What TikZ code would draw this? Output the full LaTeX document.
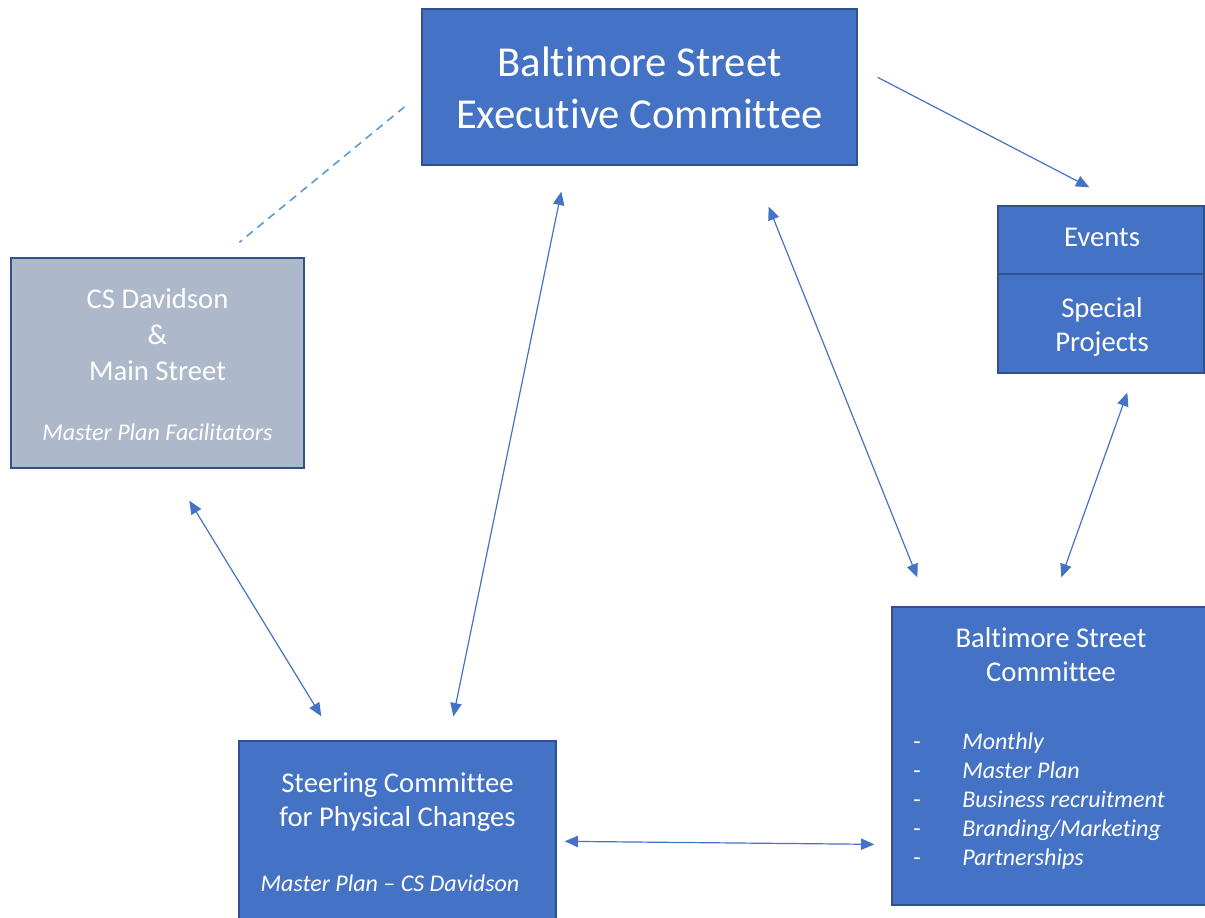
\documentclass[tikz,border=0pt]{standalone}
\usepackage{fontspec}
\setmainfont{Carlito}[Ligatures=NoCommon]
\usetikzlibrary{arrows.meta,calc}
\definecolor{boxblue}{HTML}{4472C4}
\definecolor{boxedge}{HTML}{2F528F}
\definecolor{boxgrey}{HTML}{ADB9CA}
\definecolor{dashblue}{HTML}{5B9BD5}
\newcommand\headfont{\fontsize{32}{39}\selectfont}
\newcommand\boxfont{\fontsize{21.5}{25.5}\selectfont}
\newcommand\notefont{\fontsize{18}{21.75}\selectfont\itshape}
\begin{document}
\begin{tikzpicture}[x=0.75pt,y=-0.75pt,
    box/.style={draw=boxedge, line width=1pt, fill=boxblue, inner sep=0pt},
    txt/.style={text=white, align=center, inner sep=0pt},
    link/.style={draw=boxblue, line width=0.9pt, {Triangle[length=10pt,width=8.5pt]}-{Triangle[length=10pt,width=8.5pt]}}]
\useasboundingbox (0,0) rectangle (1205,917);
% boxes
\node[box, minimum width=326.25pt, minimum height=117pt] (exec) at (639.5,87) {};
\node[box, minimum width=154.5pt, minimum height=51pt] (events) at (1101,240) {};
\node[box, minimum width=154.5pt, minimum height=74.25pt] (special) at (1101,323.5) {};
\node[box, fill=boxgrey, minimum width=219.75pt, minimum height=157.5pt] (csd) at (157.5,363) {};
\node[box, minimum width=237.75pt, minimum height=145.5pt] (steer) at (397.5,838) {};
\node[box, minimum width=238.5pt, minimum height=223.5pt] (bsc) at (1051,756) {};
% texts
\node[txt, font=\headfont] (exectext) at (639.5,88) {Baltimore Street\\Executive Committee};
\node[txt, font=\boxfont] (eventstext) at (1102,237) {Events};
\node[txt, font=\boxfont] (specialtext) at (1102,327) {Special\\Projects};
\node[txt, font=\fontsize{21.5}{27}\selectfont] (csdtext) at (157.5,335) {CS Davidson\\\&\\Main Street};
\node[txt, font=\notefont] (csdnote) at (157.5,432) {Master Plan Facilitators};
\node[txt, font=\boxfont] (steertext) at (397.5,802) {Steering Committee\\for Physical Changes};
\node[txt, font=\notefont] (steernote) at (390,883) {Master Plan -- CS Davidson};
\node[txt, font=\boxfont] (bsctext) at (1051,654.5) {Baltimore Street\\Committee};
\node[txt, align=left, anchor=base west, font=\notefont] (bsclist) at (913,749.5)
    {\begin{tabular}[t]{@{}p{36.75pt}@{}l@{}}
    \upshape- & Monthly\\
    \upshape- & Master Plan\\
    \upshape- & Business recruitment\\
    \upshape- & Branding/Marketing\\
    \upshape- & Partnerships
    \end{tabular}};
% connectors
\draw[draw=boxblue, line width=0.9pt, -{Triangle[length=10pt,width=8.5pt]}]
    ($(exec.north east)+(20,69)$) -- ($(events.north west)+(92,-18)$);
\draw[dashblue, line width=1.2pt, dash pattern=on 6pt off 4.5pt]
    ($(exec.west)+(-17,20)$) -- ($(csd.north west)+(229,-15)$);
\draw[link] ($(csd.south west)+(179,32)$) -- ($(steer.north west)+(83,-24)$);
\draw[link] ($(exec.south west)+(140,26)$) -- ($(steer.north west)+(215,-24)$);
\draw[link] ($(exec.south east)+(-89,41)$) -- ($(bsc.north west)+(26,-29)$);
\draw[link] ($(special.south west)+(130,19)$) -- ($(bsc.north west)+(170,-29)$);
\draw[link] ($(steer.north east)+(8,101)$) -- ($(bsc.north west)+(-17,238)$);
\end{tikzpicture}
\end{document}
